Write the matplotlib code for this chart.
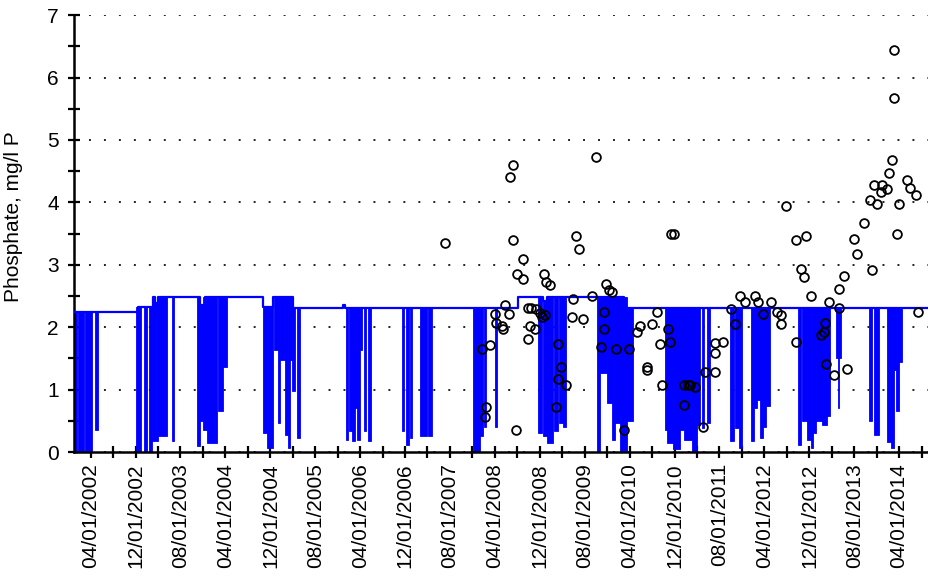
import numpy as np
import pandas as pd
import matplotlib
matplotlib.use('Agg')
import matplotlib.pyplot as plt
import matplotlib.dates as mdates
from matplotlib.ticker import FixedLocator, MultipleLocator

# observed phosphate samples (decimal year, mg/l P)
obs_year = [
    2007.51, 2008.06, 2008.18, 2008.12, 2008.10, 2008.25, 2008.27, 2008.35,
    2008.37, 2008.40, 2008.45, 2008.47, 2008.51, 2008.51, 2008.56, 2008.57,
    2008.66, 2008.66, 2008.74, 2008.79, 2008.86, 2008.74, 2008.77, 2008.84,
    2008.92, 2008.95, 2008.99, 2008.97, 2009.01, 2009.06, 2009.19, 2009.23,
    2009.19, 2009.30, 2009.16, 2009.39, 2009.41, 2009.45, 2009.49, 2009.56,
    2009.68, 2009.75, 2009.82, 2009.87, 2009.87, 2009.90, 2009.94, 2009.99,
    2010.05, 2010.17, 2010.24, 2010.35, 2010.40, 2010.50, 2010.50, 2010.58,
    2010.66, 2010.69, 2010.72, 2010.81, 2010.85, 2010.86, 2010.91, 2011.06,
    2011.11, 2011.15, 2011.22, 2011.06, 2011.33, 2011.37, 2011.52, 2011.51,
    2011.52, 2011.63, 2011.75, 2011.81, 2011.89, 2011.96, 2012.11, 2012.16,
    2012.23, 2012.34, 2012.43, 2012.50, 2012.50, 2012.57, 2012.72, 2012.72,
    2012.87, 2012.79, 2012.84, 2012.94, 2013.09, 2013.13, 2013.15, 2013.16,
    2013.28, 2013.47, 2013.20, 2013.36, 2013.36, 2013.43, 2013.57, 2013.62,
    2013.72, 2013.82, 2013.84, 2013.87, 2013.92, 2013.97, 2013.99, 2014.07,
    2014.10, 2014.14, 2014.17, 2014.17, 2014.21, 2014.25, 2014.36, 2014.41,
    2014.49, 2014.52,
]
obs_value = [
    3.35, 1.65, 1.72, 0.72, 0.56, 2.21, 2.06, 2.02,
    1.97, 2.35, 2.21, 4.40, 4.60, 3.39, 0.35, 2.86,
    3.10, 2.77, 2.30, 2.30, 2.29, 1.81, 2.02, 1.97,
    2.22, 2.17, 2.19, 2.86, 2.72, 2.67, 1.73, 1.36,
    1.17, 1.07, 0.72, 2.17, 2.45, 3.46, 3.26, 2.13,
    2.50, 4.72, 1.69, 2.25, 1.97, 2.69, 2.60, 2.57,
    1.65, 0.35, 1.65, 1.93, 2.02, 1.36, 1.31, 2.05,
    2.25, 1.73, 1.07, 1.97, 1.77, 3.50, 3.50, 1.07,
    1.07, 1.07, 1.04, 0.75, 0.40, 1.28, 1.28, 1.74,
    1.59, 1.76, 2.29, 2.05, 2.50, 2.41, 2.50, 2.41,
    2.21, 2.41, 2.25, 2.19, 2.05, 3.95, 1.77, 3.39,
    3.46, 2.94, 2.81, 2.50, 1.88, 1.93, 2.06, 1.41,
    1.23, 1.33, 2.41, 2.62, 2.30, 2.82, 3.42, 3.18,
    3.67, 4.04, 2.91, 4.28, 3.98, 4.17, 4.28, 4.22,
    4.47, 4.68, 5.68, 6.45, 3.50, 3.98, 4.36, 4.23,
    4.12, 2.25,
]

# modelled line: baseline level steps (start year, level)
base_year = [2002.000, 2002.950, 2003.173, 2003.200, 2003.250, 2003.870,
             2003.945, 2004.810, 2004.955, 2005.244, 2005.994, 2006.016,
             2008.592, 2008.963, 2009.022, 2010.165, 2014.700]
base_level = [2.24, 2.33, 2.48, 2.38, 2.48, 2.36,
              2.48, 2.33, 2.48, 2.31, 2.36, 2.31,
              2.48, 2.42, 2.48, 2.31, 2.31]

# modelled line: drops below the baseline (start year, end year, lowest value)
dip_start = [
    2002.000, 2002.052, 2002.157, 2002.312, 2002.920, 2003.039, 2003.113,
    2003.158, 2003.254, 2003.450,
    2003.822, 2003.871, 2003.920, 2003.970, 2004.138, 2004.212,
    2004.801, 2004.858, 2004.887, 2004.962, 2005.028, 2005.058, 2005.132,
    2005.181, 2005.207, 2005.232, 2005.306,
    2006.038, 2006.083, 2006.123, 2006.172, 2006.197, 2006.246, 2006.310,
    2006.369,
    2006.865, 2006.924, 2006.981, 2007.137, 2007.260,
    2007.928, 2008.027, 2008.079, 2008.243,
    2008.888, 2008.955, 2009.022, 2009.118, 2009.193, 2009.260,
    2009.757, 2009.801, 2009.905, 2009.980, 2010.032, 2010.106, 2010.212,
    2010.774, 2010.804, 2010.893, 2010.996, 2011.056, 2011.167, 2011.249,
    2011.323, 2011.397,
    2011.739, 2011.813, 2011.872, 2012.050, 2012.095, 2012.140, 2012.177,
    2012.229, 2012.273,
    2012.749, 2012.808, 2012.882, 2012.934, 2012.964, 2013.008, 2013.105,
    2013.179, 2013.313, 2013.335,
    2013.802, 2013.877, 2014.070, 2014.122, 2014.173, 2014.196, 2014.240,
]
dip_end = [
    2002.037, 2002.150, 2002.267, 2002.349, 2002.987, 2003.084, 2003.158,
    2003.247, 2003.381, 2003.485,
    2003.871, 2003.920, 2003.970, 2004.118, 2004.212, 2004.267,
    2004.858, 2004.880, 2004.954, 2005.028, 2005.058, 2005.132, 2005.170,
    2005.207, 2005.232, 2005.281, 2005.355,
    2006.072, 2006.123, 2006.172, 2006.197, 2006.246, 2006.280, 2006.331,
    2006.409,
    2006.903, 2006.973, 2007.013, 2007.236, 2007.310,
    2008.027, 2008.065, 2008.109, 2008.272,
    2008.948, 2009.022, 2009.111, 2009.185, 2009.260, 2009.304,
    2009.801, 2009.905, 2009.980, 2010.032, 2010.106, 2010.202, 2010.299,
    2010.804, 2010.893, 2010.996, 2011.056, 2011.167, 2011.241, 2011.293,
    2011.353, 2011.442,
    2011.791, 2011.872, 2011.917, 2012.088, 2012.140, 2012.177, 2012.229,
    2012.273, 2012.333,
    2012.786, 2012.882, 2012.934, 2012.964, 2013.008, 2013.105, 2013.179,
    2013.216, 2013.387, 2013.357,
    2013.839, 2013.951, 2014.122, 2014.173, 2014.196, 2014.240, 2014.292,
]
dip_low = [
    0.00, 0.00, 0.02, 0.35, 0.00, 0.00, 0.02,
    0.17, 0.25, 0.17,
    0.10, 0.50, 0.35, 0.15, 0.65, 1.37,
    0.30, 0.06, 0.06, 1.63, 0.46, 1.47, 0.27,
    0.06, 1.47, 0.97, 0.22,
    0.19, 0.33, 0.17, 0.70, 0.19, 1.63, 0.33,
    0.17,
    0.33, 0.11, 0.22, 0.25, 0.25,
    0.00, 0.25, 0.40, 0.40,
    0.30, 0.25, 0.15, 0.33, 0.46, 0.40,
    0.02, 1.26, 0.78, 0.19, 0.46, 0.02, 0.50,
    0.35, 0.15, 0.05, 0.35, 0.20, 0.02, 0.43,
    0.38, 0.46,
    0.17, 0.38, 0.06, 0.17, 0.70, 0.83, 0.22,
    0.40, 0.73,
    0.11, 0.50, 0.20, 0.06, 0.30, 0.49, 0.44,
    0.57, 1.50, 0.70,
    0.49, 0.27, 0.16, 0.06, 1.31, 0.65, 1.45,
]

tick_labels = ['04/01/2002', '12/01/2002', '08/01/2003', '04/01/2004',
               '12/01/2004', '08/01/2005', '04/01/2006', '12/01/2006',
               '08/01/2007', '04/01/2008', '12/01/2008', '08/01/2009',
               '04/01/2010', '12/01/2010', '08/01/2011', '04/01/2012',
               '12/01/2012', '08/01/2013', '04/01/2014']


def year_to_num(years):
    out = []
    for y in years:
        yr = int(y)
        d = pd.Timestamp(yr, 1, 1) + pd.Timedelta(days=(y - yr) * 365.25)
        out.append(mdates.date2num(d.to_pydatetime()))
    return np.array(out)


plt.rcParams['font.family'] = ['Liberation Sans', 'DejaVu Sans']

fig = plt.figure(figsize=(9.29, 5.84), dpi=100)
ax = fig.add_axes([0.0797, 0.226, 0.9203, 0.748])

blue = '#0000ff'

bx = year_to_num(base_year)
bl = np.array(base_level)

ds = year_to_num(dip_start)
de = year_to_num(dip_end)
dl = np.array(dip_low)
mid = (ds + de) / 2
top = bl[np.searchsorted(bx, mid, side='right') - 1]

ax.bar(ds, top - dl, width=de - ds, bottom=dl, align='edge',
       color=blue, edgecolor=blue, linewidth=0.6, zorder=2)
ax.step(bx, bl, where='post', color=blue, lw=1.6, zorder=3)

ax.plot(year_to_num(obs_year), obs_value, 'o', ms=6.3, mfc='none',
        mec='black', mew=1.3, zorder=4)

# axes
ax.set_xlim(year_to_num([2002.0, 2014.69]))
ax.set_ylim(0, 7)

ax.spines['top'].set_visible(False)
ax.spines['right'].set_visible(False)
ax.spines['left'].set_linewidth(1.8)
ax.spines['bottom'].set_linewidth(1.8)

ax.yaxis.set_major_locator(MultipleLocator(1))
ax.yaxis.set_minor_locator(MultipleLocator(0.5))

tick_dates = pd.date_range('2002-04-01', '2014-08-01', freq='4MS')
tick_nums = mdates.date2num(tick_dates.to_pydatetime())
ax.xaxis.set_major_locator(FixedLocator(tick_nums[::2]))
ax.xaxis.set_minor_locator(FixedLocator(tick_nums[1::2]))
ax.set_xticklabels(tick_labels, rotation=90, fontsize=15)

ax.tick_params(which='both', direction='inout', length=8, width=1.6,
               color='black')
ax.tick_params(axis='y', labelsize=15, pad=7)
ax.tick_params(axis='x', pad=4)

ax.set_axisbelow(True)
ax.grid(axis='y', which='major', color='#222222', lw=1.4,
        linestyle=(0, (1, 6.7)))

ax.set_ylabel('Phosphate, mg/l P', fontsize=15)
ax.yaxis.set_label_coords(-0.06, 0.54)

fig.savefig('out.png', dpi=100)
